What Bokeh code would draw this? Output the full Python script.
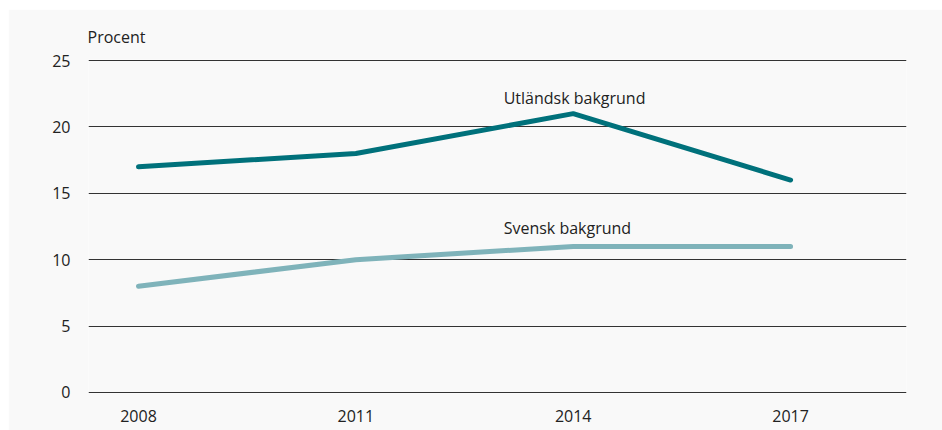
from bokeh.plotting import figure
from bokeh.models import Label, FixedTicker, Range1d, Title
from bokeh.embed import file_html
from bokeh.resources import INLINE

years = [2008, 2011, 2014, 2017]
utlandsk = [17, 18, 21, 16]
svensk = [8, 10, 11, 11]
y_ticks = [0, 5, 10, 15, 20, 25]
FONT = "Open Sans"

p = figure(width=934, height=421, output_backend="svg", toolbar_location=None,
           x_range=Range1d(2007.31, 2018.6), y_range=Range1d(-0.08, 25.08),
           min_border_left=80, min_border_right=36, min_border_top=50, min_border_bottom=37)
p.margin = (9, 0, 0, 8)
p.background_fill_color = "#f9f9f9"
p.border_fill_color = "#f9f9f9"
p.outline_line_color = None

p.line(years, utlandsk, line_color="#00717b", line_width=5, line_cap="round", line_join="round")
p.line(years, svensk, line_color="#7fb3ba", line_width=5, line_cap="round", line_join="round")

p.xgrid.grid_line_color = None
p.ygrid.grid_line_color = "#333333"
p.ygrid.grid_line_width = 1
p.yaxis.ticker = FixedTicker(ticks=y_ticks)
p.xaxis.ticker = FixedTicker(ticks=years)
for ax in (p.xaxis, p.yaxis):
    ax.axis_line_color = None
    ax.major_tick_line_color = None
    ax.minor_tick_line_color = None
    ax.major_label_text_font = FONT
    ax.major_label_text_font_size = "16px"
    ax.major_label_text_color = "#222222"
p.yaxis.major_label_standoff = 12
p.xaxis.major_label_standoff = 10

title = Title(text="Procent", align="left", vertical_align="top", text_font=FONT,
              text_font_size="16px", text_font_style="normal", text_color="#222222",
              offset=-1, standoff=20)
p.add_layout(title, "above")

def lab(x, y, t):
    p.add_layout(Label(x=x, y=y, text=t, text_font=FONT, text_font_size="16px",
                       text_color="#222222", text_baseline="middle", text_align="left"))

lab(2013.04, 22.21, "Utländsk bakgrund")
lab(2013.04, 12.35, "Svensk bakgrund")

open("out.html", "w").write(file_html(p, INLINE))
